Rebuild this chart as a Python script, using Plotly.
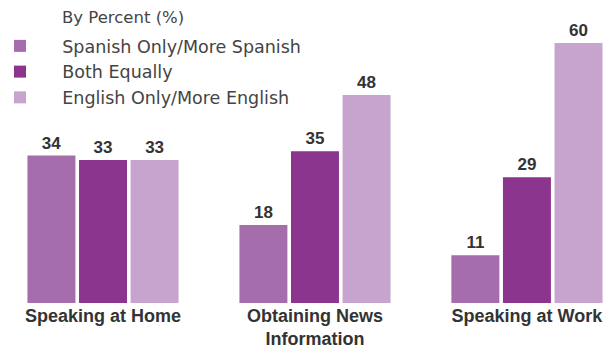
import plotly.graph_objects as go

categories = ["Speaking at Home", "Obtaining News<br>Information", "Speaking at Work"]
series_names = ["Spanish Only/More Spanish", "Both Equally", "English Only/More English"]
spanish = [34, 18, 11]
both = [33, 35, 29]
english = [33, 48, 60]
colors = ["#a56dab", "#8b358f", "#c6a4cd"]

pad = "\u00a0" * 4  # spacing between legend swatch and its label

fig = go.Figure()
for name, vals, col in zip(series_names, [spanish, both, english], colors):
    fig.add_trace(go.Bar(
        x=categories, y=vals, name=pad + name, marker_color=col, marker_line_width=0,
        text=vals, textposition="outside", cliponaxis=False,
        textfont=dict(family="Liberation Sans", size=17, color="#333333", weight="bold"),
    ))

fig.add_annotation(
    text="By Percent (%)", xref="paper", yref="paper", x=60 / 613, y=1 - 17 / 303,
    xanchor="left", yanchor="middle", showarrow=False,
    font=dict(family="DejaVu Sans", size=16.5, color="#444444"),
)

fig.update_layout(
    width=613, height=348,
    margin=dict(l=0, r=0, t=0, b=45, autoexpand=False),
    paper_bgcolor="white", plot_bgcolor="white",
    barmode="group", bargap=0.27, bargroupgap=0.07,
    showlegend=True,
    legend=dict(
        font=dict(family="DejaVu Sans", size=17.5, color="#444444"),
        x=0, y=1 - 28 / 303, xanchor="left", yanchor="top",
        bgcolor="rgba(0,0,0,0)", itemwidth=30,
    ),
    xaxis=dict(
        range=[-0.486, 2.406], showgrid=False, zeroline=False, showline=False,
        ticks="", ticklabelstandoff=0, automargin=False,
        tickfont=dict(family="Liberation Sans", size=18, color="#333333", weight="bold"),
    ),
    yaxis=dict(range=[0, 69.9], visible=False, automargin=False),
)

fig.write_html("out.html")
